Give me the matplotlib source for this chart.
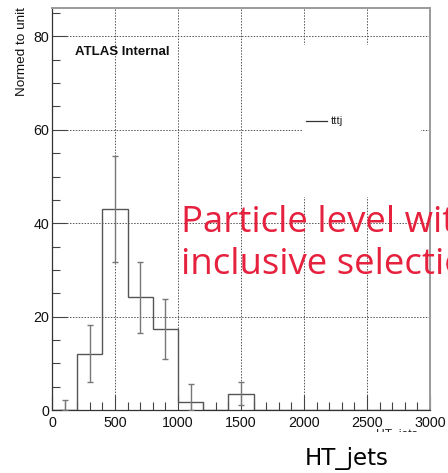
import matplotlib
matplotlib.use("Agg")
import matplotlib.pyplot as plt
from matplotlib.patches import Rectangle
from matplotlib.ticker import MultipleLocator
import numpy as np

# HT_jets distribution, 200 GeV bins
bin_edges = [0, 200, 400, 600, 800, 1000, 1200, 1400, 1600, 1800, 2000,
             2200, 2400, 2600, 2800, 3000]
counts = [0.0, 12.1, 43.0, 24.1, 17.3, 1.7, 0.0, 3.5, 0.0, 0.0, 0.0,
          0.0, 0.0, 0.0, 0.0]
errors = [2.2, 6.2, 11.4, 7.7, 6.4, 3.8, 0.0, 2.4, 0.0, 0.0, 0.0,
          0.0, 0.0, 0.0, 0.0]
x_ticks = [0, 500, 1000, 1500, 2000, 2500, 3000]
y_ticks = [0, 20, 40, 60, 80]
legend_label = "tttj"

W, H = 448, 473
fig = plt.figure(figsize=(W / 100, H / 100), dpi=100)
fig.patch.set_facecolor("white")

# axes frame in pixel terms
x0, x1, ytop, ybot = 52, 430, 7.5, 410
ax = fig.add_axes([x0 / W, 1 - ybot / H, (x1 - x0) / W, (ybot - ytop) / H])
ax.set_xlim(0, 3000)
ax.set_ylim(0, 86.2)

root_font = "Liberation Sans"

# grid
for xv in x_ticks[1:-1]:
    ax.axvline(xv, color="#555555", lw=0.7, ls=(0, (1.5, 1.5)), zorder=1)
for yv in y_ticks[1:]:
    ax.axhline(yv, color="#555555", lw=0.7, ls=(0, (1.5, 1.5)), zorder=1)

# legend box (white, no border) hiding grid
leg_box = Rectangle(((302 - x0) / (x1 - x0), (ybot - 197) / (ybot - ytop)),
                    (421 - 302) / (x1 - x0), (197 - 45) / (ybot - ytop),
                    transform=ax.transAxes, facecolor="white",
                    edgecolor="none", zorder=2)
ax.add_patch(leg_box)

# histogram outline
edges = np.array(bin_edges, dtype=float)
vals = np.array(counts, dtype=float)
ax.stairs(vals, edges, color="#555555", lw=1.0, zorder=3)

# error bars (skip empty bins without error)
centers = 0.5 * (edges[:-1] + edges[1:])
errs = np.array(errors, dtype=float)
mask = errs > 0
lo = np.minimum(errs, vals)
ax.errorbar(centers[mask], vals[mask], yerr=[lo[mask], errs[mask]],
            fmt="none", ecolor="#777777", elinewidth=1.0, capsize=2.2,
            capthick=1.0, zorder=4)

# ticks, ROOT style (inside, left/bottom)
ax.set_xticks(x_ticks)
ax.set_yticks(y_ticks)
ax.xaxis.set_minor_locator(MultipleLocator(100))
ax.yaxis.set_minor_locator(MultipleLocator(5))
ax.tick_params(which="both", direction="in", top=False, right=False,
               color="#444444", width=0.8)
ax.tick_params(which="major", length=11)
ax.tick_params(which="minor", length=5.5)
ax.tick_params(axis="y", which="major", pad=2, labelsize=10.3)
ax.tick_params(axis="x", which="major", pad=4, labelsize=10.3)
for lab in ax.get_xticklabels() + ax.get_yticklabels():
    lab.set_fontfamily(root_font)
    lab.set_color("#111111")

for side in ("left", "bottom"):
    ax.spines[side].set_color("#333333")
    ax.spines[side].set_linewidth(0.9)
for side in ("top", "right"):
    ax.spines[side].set_color("#9a9a9a")
    ax.spines[side].set_linewidth(1.4)

# y title, top aligned
fig.text(22 / W, 1 - 7 / H, "Normed to unit", rotation=90, ha="center",
         va="top", fontsize=9.7, family=root_font, color="#111111")

# ATLAS label
fig.text(75 / W, 1 - 55 / H, "ATLAS Internal", ha="left", va="baseline",
         fontsize=9.5, fontweight="bold", family=root_font, color="#111111")

# legend entry
fig.add_artist(plt.Line2D([306 / W, 327 / W], [1 - 121 / H, 1 - 121 / H],
                          color="#333333", lw=0.9))
fig.text(331 / W, 1 - 121 / H, legend_label, ha="left", va="center",
         fontsize=8.2, family=root_font, color="#222222")

# x title from the canvas, mostly covered below
fig.text(418 / W, 1 - 428.5 / H, "HT_jets", ha="right", va="top",
         fontsize=8.7, family=root_font, color="#222222")
fig.add_artist(Rectangle((0, 0), 1, 1 - 432 / H, transform=fig.transFigure,
                         facecolor="white", edgecolor="none", zorder=5))

# annotation text
red = "#e6213e"
fig.text(181 / W, 1 - 232 / H, "Particle level with", ha="left",
         va="baseline", fontsize=26.4, family="Open Sans", color=red,
         zorder=6)
fig.text(181 / W, 1 - 273.5 / H, "inclusive selection", ha="left",
         va="baseline", fontsize=26.4, family="Open Sans", color=red,
         zorder=6)

fig.text(305 / W, 1 - 465 / H, "HT_jets", ha="left", va="baseline",
         fontsize=16.5, family="DejaVu Sans", color="black", zorder=6)

fig.savefig("out.png", dpi=100)
